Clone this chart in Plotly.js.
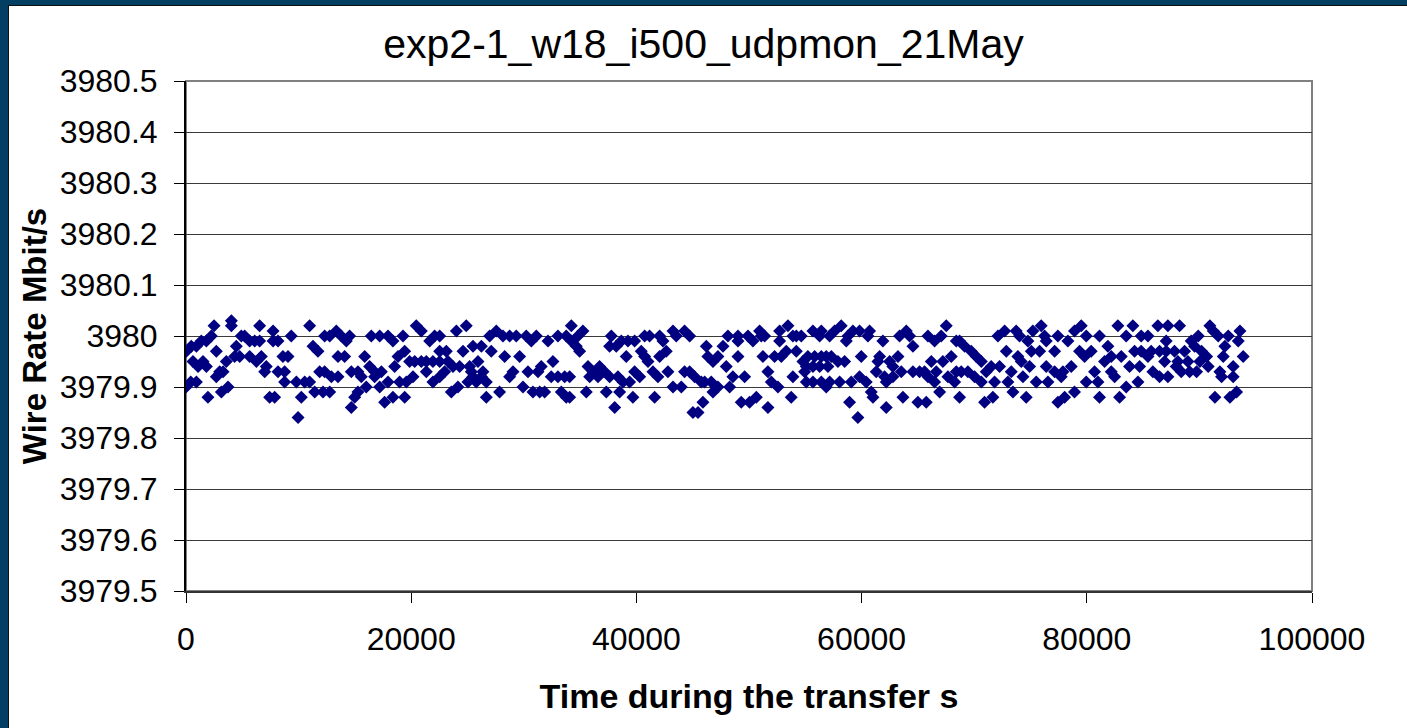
<!DOCTYPE html>
<html>
<head>
<meta charset="utf-8">
<script src="https://cdn.plot.ly/plotly-3.0.1.min.js"></script>
<style>
html,body{margin:0;padding:0;background:#fff;}
#wrap{position:relative;width:1407px;height:728px;overflow:hidden;}
#chart{position:absolute;left:0;top:0;width:1407px;height:728px;}
.band{position:absolute;background:#023f62;z-index:5;}
.edge{position:absolute;background:#111;z-index:6;}
</style>
</head>
<body>
<div id="wrap">
<div id="chart"></div>
<div class="band" style="left:0;top:0;width:1407px;height:5px;"></div>
<div class="band" style="left:0;top:0;width:8px;height:728px;"></div>
<div class="edge" style="left:8px;top:5px;width:1399px;height:1px;"></div>
<div class="edge" style="left:8px;top:5px;width:1px;height:723px;"></div>
</div>
<script>
const chartTitle = 'exp2-1_w18_i500_udpmon_21May';
const xTitle = 'Time during the transfer s';
const yTitle = 'Wire Rate Mbit/s';

const xTickVals = [0, 20000, 40000, 60000, 80000, 100000];
const xTickText = ['0', '20000', '40000', '60000', '80000', '100000'];
const yTickVals = [3979.5, 3979.6, 3979.7, 3979.8, 3979.9, 3980, 3980.1, 3980.2, 3980.3, 3980.4, 3980.5];
const yTickText = ['3979.5', '3979.6', '3979.7', '3979.8', '3979.9', '3980', '3980.1', '3980.2', '3980.3', '3980.4', '3980.5'];

const timeS = [
0,30,420,470,620,920,920,1070,1360,1510,1810,1810,1950,2250,2490,2690,2690,2990,3140,3290,
3580,3730,4030,4030,4320,4470,4770,4910,5210,5650,5650,6100,6250,6540,6540,6690,6990,7130,7430,7730,
7730,7870,8170,8170,8610,8760,8760,9060,9350,9800,9950,10240,10540,
10980,10980,11280,11430,11720,11870,12170,12310,12310,12760,12760,12910,13350,13500,13500,13790,14090,14240,14530,14680,
14680,14980,15270,15270,15570,15870,16010,16310,16460,16750,16750,17200,17200,17350,17640,17940,17940,18380,18380,18530,
18830,18970,19270,19420,19420,19570,19860,20160,20310,20450,20900,20900,21340,21340,21640,21930,21930,22080,
22530,22530,22530,22530,22970,23120,23270,23560,23710,24010,24150,24300,24600,24890,25040,25190,25340,25490,25490,25780,
25930,26230,26230,26370,26670,26670,26970,27110,27560,27850,28150,28300,28740,28740,29040,29330,29630,29930,30220,30370,
30670,30810,31110,31260,31410,31550,31850,32150,32440,32590,33030,33030,33330,33630,33770,33770,
34070,34070,34220,34220,34660,34810,34960,35250,35550,35700,35850,36140,36590,36730,37180,37330,37620,37620,37770,38070,
38210,38360,38510,38660,38810,39100,39250,39400,39690,39840,39840,40290,40430,40730,40730,41030,41170,41470,41620,41910,
42060,42060,42360,42650,42800,43250,43250,43540,43990,44280,44280,44730,44730,45020,45170,
45470,45760,45910,46060,46210,46350,46650,46800,46800,47240,47240,47690,47980,48130,48280,48570,49020,49020,49020,49310,
49610,49910,50050,50350,50650,50940,51090,51240,51390,51680,51680,51980,52270,52570,52720,52720,52870,53310,53460,53750,
53900,53900,54200,54200,54640,54790,54940,55090,55090,55230,55680,55680,55680,55830,56270,56270,56420,56420,56420,56860,
56860,57010,
57160,57160,57310,57600,57900,58050,58190,58490,58640,58790,58930,59080,59230,59670,59820,59820,59970,60410,60560,60710,
60860,61010,61300,61450,61600,61890,62040,62190,62190,62490,62780,62780,63230,63370,63520,63670,63970,64260,64560,64560,
65000,65150,65590,65740,65890,65890,66190,66480,66480,66630,66930,67070,67220,67520,67670,67960,68260,68410,68410,
68700,68700,68850,69150,69440,69740,70030,70180,70630,70630,70920,71070,71510,71660,71810,72110,72250,72700,72850,72990,
73290,73440,73730,73880,74030,74180,74330,74620,74770,74920,75070,75210,75510,75810,75950,76250,76400,76400,76550,77140,
77140,77430,77430,77730,77880,78030,78320,78620,78910,78910,79360,79510,79800,79950,79950,
80390,80690,80990,81130,81130,81580,81870,82170,82170,82470,82760,82910,83060,83500,83500,83800,84090,84240,84540,84690,
84830,84830,85430,85430,85720,85870,86310,86460,86460,86910,87050,87050,87200,87200,87790,87940,88090,88240,88390,88680,
88980,89130,89270,89570,
89750,89900,90040,90190,90640,90780,90930,91230,91380,91670,91820,91970,92120,92260,92560,92710,93000,93000,93300,93450,
93600,93890
];

const wireRate = [
3979.9,3979.97,3979.91,3979.98,3979.95,3979.91,3979.98,3979.94,3979.99,3979.95,
3979.99,3979.94,3979.88,3980,3980.02,3979.97,3979.92,3979.93,3979.89,3979.93,
3979.95,3979.9,3980.03,3980.02,3979.96,3979.98,3979.96,3980,3980,3979.99,
3979.96,3979.99,3979.95,3980.02,3979.99,3979.96,3979.93,3979.94,3979.88,3980.01,
3979.99,3979.88,3979.99,3979.93,3979.96,3979.93,3979.91,3979.96,3980,3979.91,
3979.84,3979.88,3979.91,
3980.02,3979.91,3979.98,3979.89,3979.97,3979.93,3979.89,3980,3979.93,3980,
3979.89,3979.92,3980.01,3979.96,3979.92,3980,3979.96,3979.99,3980,3979.93,
3979.86,3979.88,3979.93,3979.89,3979.92,3979.96,3979.9,3979.94,3980,3979.93,
3979.92,3980,3979.9,3979.93,3979.87,3980,3979.91,3979.99,3979.88,3979.94,
3979.96,3979.91,3980,3979.97,3979.88,3979.91,3979.95,3979.92,3979.95,3980.02,
3980.01,3979.95,3979.95,3979.93,3979.99,3979.95,3979.91,3980,
3980,3979.97,3979.95,3979.92,3979.93,3979.97,3979.95,3979.89,3979.94,3980.01,
3979.9,3979.94,3979.97,3980.02,3979.91,3979.94,3979.93,3979.98,3979.92,3979.91,
3979.95,3979.98,3979.92,3979.93,3979.91,3979.88,3980,3979.97,3980.01,3979.89,
3980,3979.96,3980,3979.92,3979.93,3980,3979.96,3979.9,3980,3979.93,
3979.99,3979.89,3980,3979.93,3979.89,3979.94,3979.89,3979.99,3979.92,3979.95,
3980,3979.92,3979.89,3979.92,3980,3979.88,
3979.92,3979.88,3980.02,3979.99,3979.98,3980,3979.97,3980.01,3979.89,3979.94,
3979.92,3979.93,3979.92,3979.94,3979.93,3979.89,3979.98,3979.92,3980,3979.86,
3979.98,3979.92,3979.89,3979.99,3979.91,3979.96,3979.99,3979.91,3979.88,3979.99,
3979.93,3979.92,3979.97,3980,3979.96,3979.95,3980,3979.93,3979.88,3979.92,
3980,3979.96,3979.99,3979.97,3979.93,3980.01,3979.9,3980,3979.9,3980.01,
3979.93,3980,3979.93,3979.85,3979.92,
3979.85,3979.91,3979.87,3979.91,3979.98,3979.96,3979.91,3979.95,3979.89,3979.96,
3979.9,3979.98,3979.94,3980,3979.9,3979.92,3980,3979.99,3979.96,3979.87,
3979.92,3980,3979.87,3979.99,3979.88,3980.01,3980,3979.96,3980,3979.93,
3979.86,3979.91,3979.96,3979.9,3980.01,3979.99,3979.96,3979.97,3980.02,3979.88,
3980,3979.92,3980,3979.97,3980,3979.95,3979.93,3979.94,3979.91,3979.96,
3980.01,3979.94,3979.91,3979.96,3980,3979.94,3980.01,3979.96,3979.91,3979.96,
3979.9,3979.94,
3980,3979.91,3979.96,3980.01,3979.95,3979.91,3980.02,3979.95,3979.99,3980,
3979.87,3979.91,3980.01,3979.84,3980.01,3979.92,3979.96,3979.91,3980,3980.01,
3979.89,3979.88,3979.93,3979.95,3979.96,3979.99,3979.92,3979.91,3979.86,3979.95,
3979.94,3979.92,3979.96,3980,3979.93,3979.88,3980.01,3980,3979.98,3979.93,
3979.87,3979.93,3979.93,3979.87,3980,3979.92,3979.95,3979.99,3979.91,3979.93,
3979.89,3980,3979.95,3980.02,3979.92,3979.96,3979.91,3979.99,3979.93,
3979.99,3979.88,3979.93,3979.98,3979.93,3979.97,3979.92,3979.96,3979.95,3979.91,
3979.87,3979.93,3979.94,3979.88,3979.91,3980,3979.94,3980.01,3979.97,3979.91,
3979.93,3979.89,3980.01,3979.96,3980,3979.95,3979.92,3979.88,3979.99,3979.94,
3979.97,3980.01,3979.91,3979.97,3980.02,3980,3979.99,3979.94,3979.91,3979.97,
3979.93,3980,3979.87,3979.92,3979.93,3979.88,3979.99,3979.94,3980.01,3979.89,
3979.97,3980.02,3979.96,3980,3979.91,
3979.97,3979.93,3979.91,3980,3979.88,3979.95,3979.98,3979.96,3979.93,3979.92,
3980.02,3979.88,3979.96,3980,3979.9,3979.94,3980.02,3979.97,3979.91,3979.94,
3980,3979.97,3980,3979.96,3979.97,3979.93,3980.02,3979.97,3979.92,3979.95,
3979.99,3979.97,3980.02,3979.92,3979.97,3979.94,3979.95,3980.02,3979.93,3979.97,
3979.95,3979.93,3979.99,3979.98,
3979.93,3980,3979.95,3979.97,3979.96,3979.94,3980.02,3980.01,3979.88,3980,
3979.93,3979.92,3979.96,3979.98,3980,3979.88,3979.94,3979.92,3979.89,3979.99,
3980.01,3979.96
];

const fontFam = '"Liberation Sans", Arial, sans-serif';

const trace = {
  type: 'scatter',
  mode: 'markers',
  x: timeS,
  y: wireRate,
  marker: {symbol: 'diamond', size: 10, color: '#000080', line: {width: 0}},
  hoverinfo: 'x+y'
};

const layout = {
  width: 1407,
  height: 728,
  margin: {l: 186, r: 95, t: 81, b: 137, pad: 0},
  paper_bgcolor: '#ffffff',
  plot_bgcolor: '#ffffff',
  showlegend: false,
  font: {family: fontFam, color: '#000000', size: 32},
  title: {
    text: chartTitle,
    font: {family: fontFam, size: 41, color: '#000000'},
    x: 0.5, xref: 'container', xanchor: 'center',
    y: 1 - 44 / 728, yref: 'container', yanchor: 'middle'
  },
  xaxis: {
    range: [0, 100000],
    tickmode: 'array',
    tickvals: xTickVals,
    ticktext: xTickText,
    ticks: 'outside',
    ticklen: 10,
    tickwidth: 1,
    tickcolor: '#000000',
    ticklabelstandoff: 9,
    showgrid: false,
    zeroline: false,
    showline: true,
    linecolor: '#333333',
    linewidth: 2,
    tickfont: {family: fontFam, size: 32, color: '#000000'},
    title: {
      text: '<b>' + xTitle + '</b>',
      font: {family: fontFam, size: 34, color: '#000000'},
      standoff: 28
    },
    automargin: false
  },
  yaxis: {
    range: [3979.5, 3980.5],
    tickmode: 'array',
    tickvals: yTickVals,
    ticktext: yTickText,
    ticks: 'outside',
    ticklen: 10,
    tickwidth: 1,
    tickcolor: '#000000',
    ticklabelstandoff: 10,
    showgrid: true,
    gridcolor: '#3a3a3a',
    gridwidth: 1,
    zeroline: false,
    showline: true,
    linecolor: '#000000',
    linewidth: 2,
    tickfont: {family: fontFam, size: 32, color: '#000000'},
    title: {
      text: '<b>' + yTitle + '</b>',
      font: {family: fontFam, size: 33, color: '#000000'},
      standoff: 3
    },
    automargin: false
  },
  shapes: [{
    type: 'rect', xref: 'paper', yref: 'paper',
    x0: 0, x1: 1, y0: 0, y1: 1,
    line: {color: '#808080', width: 2},
    layer: 'below'
  }]
};

Plotly.newPlot('chart', [trace], layout, {displayModeBar: false, staticPlot: true});
</script>
</body>
</html>
